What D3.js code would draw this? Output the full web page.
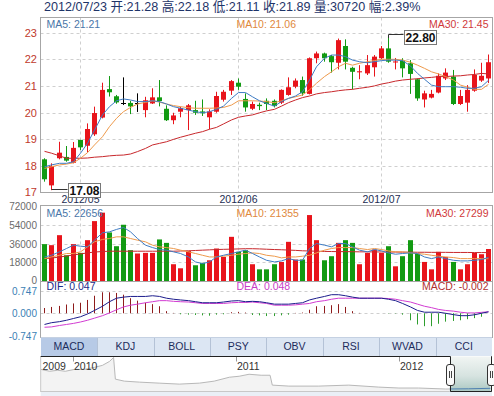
<!DOCTYPE html>
<html><head><meta charset="utf-8">
<script src="https://cdn.jsdelivr.net/npm/d3@7"></script>
<style>
body{margin:0;background:#fff;}
svg{display:block;font-family:"Liberation Sans",Arial,"Noto Sans CJK SC",sans-serif;}
</style>
</head><body>
<svg id="c" width="494" height="396"></svg>
<script>
// ---------------- DATA ----------------
const dates = ["2012-04-23","2012-04-24","2012-04-25","2012-04-26","2012-04-27",
"2012-05-02","2012-05-03","2012-05-04","2012-05-07","2012-05-08","2012-05-09","2012-05-10","2012-05-11","2012-05-14","2012-05-15","2012-05-16","2012-05-17","2012-05-18","2012-05-21","2012-05-22","2012-05-23","2012-05-24","2012-05-25","2012-05-28","2012-05-29","2012-05-30","2012-05-31",
"2012-06-01","2012-06-04","2012-06-05","2012-06-06","2012-06-07","2012-06-08","2012-06-11","2012-06-12","2012-06-13","2012-06-14","2012-06-15","2012-06-18","2012-06-19","2012-06-20","2012-06-21","2012-06-25","2012-06-26","2012-06-27","2012-06-28","2012-06-29",
"2012-07-02","2012-07-03","2012-07-04","2012-07-05","2012-07-06","2012-07-09","2012-07-10","2012-07-11","2012-07-12","2012-07-13","2012-07-16","2012-07-17","2012-07-18","2012-07-19","2012-07-20","2012-07-23"];

const opens = [18.24,17.26,18.28,18.33,18.11,18.97,18.75,19.18,19.81,20.88,
20.61,20.35,20.36,20.35,20.09,20.34,20.57,20.14,19.71,20.03,
20.09,20.09,20.04,19.82,20.03,20.48,20.82,21.12,20.51,20.14,
20.29,20.44,20.44,20.37,20.66,20.97,21.22,20.70,22.04,22.22,
22.12,21.87,22.50,21.68,21.51,21.47,21.70,22.04,22.41,21.88,
21.95,21.85,21.25,20.49,20.56,20.75,21.28,21.35,20.32,20.37,
20.82,21.20,21.28];
const highs = [18.28,18.09,18.90,18.74,18.89,18.97,19.59,20.22,21.12,21.37,
20.66,21.32,20.44,20.72,20.59,20.91,21.22,20.27,19.99,20.22,
20.32,20.44,20.49,20.12,20.78,20.85,21.22,21.28,20.72,20.41,
20.37,20.53,20.49,20.87,21.32,21.28,21.35,22.07,22.29,22.25,
22.16,22.78,22.75,21.72,21.78,22.16,22.16,22.50,22.80,22.05,
22.04,21.97,21.28,20.82,20.85,21.47,21.66,21.60,20.85,21.03,
21.62,21.87,22.18];
const lows = [17.40,17.08,18.24,18.15,18.09,18.59,18.50,19.12,19.78,20.60,
20.33,20.28,19.94,20.02,19.82,20.32,20.23,19.68,19.56,19.82,
19.34,19.91,19.87,19.37,19.99,20.41,20.66,20.85,20.03,20.09,
20.09,20.09,20.19,20.32,20.63,20.91,20.63,20.68,21.85,21.91,
21.50,21.62,21.62,20.87,21.25,21.41,21.35,22.00,21.87,21.62,
21.32,20.70,20.44,20.19,20.53,20.72,21.22,20.28,20.28,20.03,
20.78,21.15,21.11];
const closes = [17.49,17.99,18.49,18.19,18.67,18.69,19.38,19.98,20.85,20.76,
20.38,20.35,20.23,20.35,20.46,20.57,20.43,19.71,19.89,20.16,
20.27,19.99,19.97,20.04,20.62,20.78,21.18,20.97,20.19,20.32,
20.24,20.32,20.24,20.85,20.95,21.20,20.72,22.04,22.22,22.04,
21.89,22.72,21.91,21.53,21.55,21.78,22.10,22.41,21.91,21.92,
21.66,21.45,20.53,20.72,20.70,21.38,21.50,20.32,20.62,20.85,
21.41,21.38,21.89];

const ma5 = [17.96,18.03,18.09,18.09,18.15,18.47,18.84,19.34,19.91,20.22,
20.44,20.51,20.47,20.41,20.41,20.44,20.41,20.32,20.22,20.16,
20.09,20.03,19.99,20.03,20.12,20.24,20.53,20.75,20.75,20.59,
20.44,20.34,20.24,20.41,20.53,20.62,20.78,21.22,21.72,22.04,
22.16,22.16,22.10,21.97,21.91,21.87,21.91,21.95,21.97,21.97,
21.95,21.75,21.47,21.25,21.03,20.97,20.97,20.97,20.95,20.91,
20.91,20.97,21.21];
const ma10 = [17.90,17.96,18.03,18.06,18.11,18.28,18.49,18.78,19.09,19.47,
19.78,20.03,20.19,20.32,20.38,20.44,20.39,20.32,20.26,20.22,
20.18,20.16,20.16,20.16,20.17,20.19,20.28,20.44,20.44,20.44,
20.43,20.41,20.37,20.44,20.53,20.59,20.66,20.85,21.10,21.35,
21.53,21.72,21.85,21.78,21.85,21.91,21.95,22.00,22.00,22.00,
21.97,21.89,21.78,21.66,21.53,21.45,21.35,21.22,21.03,20.95,
20.87,20.87,21.06];
const ma30 = [18.54,18.47,18.37,18.28,18.28,18.28,18.29,18.32,18.34,18.37,
18.39,18.40,18.44,18.53,18.65,18.78,18.84,18.90,18.99,19.07,
19.15,19.22,19.28,19.37,19.44,19.57,19.72,19.82,19.87,19.91,
19.99,20.06,20.12,20.24,20.37,20.47,20.56,20.62,20.70,20.75,
20.78,20.82,20.85,20.87,20.91,20.95,21.00,21.07,21.12,21.18,
21.22,21.25,21.27,21.30,21.32,21.35,21.35,21.37,21.38,21.41,
21.43,21.47,21.45];

const volumes = [35400,34400,44000,24700,35400,27000,39200,57500,65600,46600,
33400,54000,29600,26400,27000,27000,39900,36600,16100,12200,
28900,15100,17400,19900,31200,23100,42400,28000,29600,16100,
11200,11200,16100,18300,37600,20600,20600,63300,39200,19900,
23800,36600,39200,36600,16100,27000,30200,27000,33400,14100,
23800,39200,26400,18300,11200,28000,23100,18300,11200,16100,
27000,25700,30720];
const volMa5 = [23100,24700,28000,31200,34400,33400,32800,39200,46300,47200,
49500,51400,47200,40800,34400,32100,30200,29600,28000,26400,
23100,18300,16700,18300,23100,24700,26400,28000,29600,26400,
23100,19900,18300,19300,21500,19900,19900,31200,36000,34400,
32800,36000,36000,32800,29600,28000,30200,28900,27000,25700,
26400,27000,26400,23100,21500,23100,21500,19900,19300,19300,
19900,20600,22656];
const volMa10 = [21500,23100,24700,26400,26400,28000,32800,37600,39900,40800,
42400,42400,40800,39200,37600,34400,32800,32100,31200,29600,
28000,26400,24700,23100,23100,23800,24700,25700,26400,27000,
26400,24700,23800,22200,23100,23100,23800,24700,27000,29600,
31200,32100,32100,32100,31200,30200,31200,30200,28900,28000,
28000,27000,26400,25700,24700,23800,23100,22500,21500,21500,
21500,21500,21355];
const volMa30 = [21500,22000,23000,24000,25000,26000,27000,27800,28300,28600,
28600,28600,28600,28600,28600,28600,28600,28600,28600,28800,
29000,29300,29600,29900,30200,30400,30600,30800,31000,31000,
30800,30500,30200,30000,29700,29400,29000,28800,28600,28400,
28300,28200,28200,28100,28000,28000,27900,27900,27800,27800,
27700,27700,27600,27600,27500,27500,27500,27400,27400,27400,
27300,27300,27299];

const dif = [-0.368,-0.310,-0.276,-0.230,-0.172,-0.115,-0.023,0.092,0.230,0.379,
0.494,0.529,0.552,0.552,0.552,0.575,0.552,0.494,0.460,0.437,
0.414,0.379,0.345,0.345,0.345,0.368,0.402,0.414,0.379,0.391,
0.379,0.345,0.299,0.299,0.299,0.322,0.345,0.437,0.494,0.552,
0.609,0.609,0.575,0.529,0.494,0.494,0.494,0.494,0.460,0.414,
0.322,0.207,0.092,0.034,0.034,0.034,0.000,-0.046,-0.080,-0.080,
-0.050,0.000,0.047];
const dea = [-0.460,-0.448,-0.402,-0.368,-0.333,-0.287,-0.230,-0.161,-0.080,0.011,
0.115,0.207,0.264,0.299,0.345,0.379,0.414,0.414,0.391,0.379,
0.368,0.345,0.322,0.322,0.322,0.322,0.345,0.356,0.356,0.368,
0.345,0.322,0.264,0.264,0.264,0.276,0.299,0.322,0.379,0.414,
0.460,0.494,0.494,0.494,0.494,0.494,0.494,0.494,0.483,0.460,
0.414,0.368,0.299,0.230,0.184,0.126,0.092,0.069,0.034,0.011,
0.010,0.030,0.048];
const macdHist = [0.172,0.207,0.241,0.287,0.322,0.345,0.437,0.575,0.689,0.689,
0.666,0.609,0.494,0.414,0.345,0.299,0.230,0.069,0.011,-0.034,
-0.046,-0.057,-0.069,-0.080,-0.046,-0.034,0.034,0.046,0.023,-0.057,
-0.069,-0.092,-0.092,-0.069,-0.046,0.011,0.023,0.115,0.230,0.241,
0.264,0.299,0.207,0.069,0.011,0.000,0.000,0.000,-0.011,-0.011,
-0.046,-0.230,-0.368,-0.425,-0.425,-0.345,-0.276,-0.253,-0.230,-0.195,
-0.161,-0.115,-0.002];

const priceTicks = [17,18,19,20,21,22,23];
const volTicks = [0,18000,36000,54000,72000];
const macdTicks = [-0.747,0,0.747];
const tabs = ["MACD","KDJ","BOLL","PSY","OBV","RSI","WVAD","CCI"];

const navDates = ["2009-10-21","2009-11-10","2009-11-28","2009-12-15","2010-01-05","2010-01-27","2010-02-18","2010-03-08","2010-03-24","2010-04-02","2010-04-06","2010-04-26","2010-05-30","2010-07-13","2010-08-27","2010-10-11","2010-11-13","2010-12-17","2011-01-08","2011-01-30","2011-02-26","2011-03-18","2011-03-23","2011-04-29","2011-07-05","2011-09-10","2011-11-16","2011-12-31","2012-02-13","2012-04-14","2012-06-04","2012-07-23"];
const navValues = [46.9,44.2,45.6,44.2,46.9,46.9,49.7,52.5,58.1,63.6,33.1,30.3,28.9,27.5,26.1,27.5,30.3,35.8,37.2,40.0,38.6,38.6,24.7,23.3,23.3,24.7,21.9,20.6,20.6,19.2,19.5,20.2];
const navYearLabels = ["2009","2010","2011","2012"];
const navYearDates = ["2009-10-21","2010-01-01","2011-01-01","2012-01-01"];

// ---------------- DRAW ----------------
const svg = d3.select("#c");
const L = 40.5, R = 492;
const RED = "#e8141b", GREEN = "#129a12";
const C_MA5 = "#3f7cc4", C_MA10 = "#ee9a4c", C_MA30 = "#c8282c";
const n = dates.length;

const x = d3.scaleBand().domain(dates).range([40.7, R]).padding(0);
const cx = d => Math.round(x(d) + x.bandwidth() / 2);

const yP = d3.scaleLinear().domain([17, 23]).range([192.3, 32.7]);
const yV = d3.scaleLinear().domain([0, 72000]).range([281, 206]);
const yM = d3.scaleLinear().domain([-0.747, 0.747]).range([336, 290.5]);

const MAIN = {t: 17.5, b: 192.5}, VOL = {t: 205.5, b: 281}, MAC = {t: 281, b: 337};

function frame(p) {
  svg.append("rect").attr("x", L).attr("y", p.t).attr("width", R - L).attr("height", p.b - p.t)
    .attr("fill", "none").attr("stroke", "#a6a6a6").attr("shape-rendering", "crispEdges");
}
function hgrid(ticks, y) {
  svg.append("g").selectAll("line").data(ticks).join("line")
    .attr("x1", L).attr("x2", R).attr("y1", d => Math.round(y(d)) + 0.5).attr("y2", d => Math.round(y(d)) + 0.5)
    .attr("stroke", "#cfcfcf").attr("stroke-dasharray", "3,3");
}
const monthIdx = dates.map((d, i) => i).filter(i => i > 0 && dates[i].slice(5, 7) !== dates[i - 1].slice(5, 7));
function vgrid(p) {
  svg.append("g").selectAll("line").data(monthIdx).join("line")
    .attr("x1", i => cx(dates[i]) + 0.5).attr("x2", i => cx(dates[i]) + 0.5)
    .attr("y1", p.t).attr("y2", p.b).attr("stroke", "#cfcfcf").attr("stroke-dasharray", "3,3");
}

// grids
hgrid(priceTicks.slice(1), yP); vgrid(MAIN);
hgrid(volTicks.slice(1, 4), yV); vgrid(VOL);
hgrid([0.747, 0], yM);

// axes labels
svg.append("g").selectAll("text").data(priceTicks).join("text")
  .attr("x", 37).attr("y", d => yP(d) + 4).attr("text-anchor", "end")
  .attr("font-size", 11).attr("fill", "#c0392b").text(d => d);
svg.append("g").selectAll("text").data(volTicks).join("text")
  .attr("x", 37).attr("y", d => yV(d) + (d === 0 ? 3.2 : 4)).attr("text-anchor", "end")
  .attr("font-size", 10).attr("fill", "#6b6b6b").text(d => d);
svg.append("g").selectAll("text").data(macdTicks).join("text")
  .attr("x", 37).attr("y", d => yM(d) + (d > 0 ? 4.6 : 4)).attr("text-anchor", "end")
  .attr("font-size", 10).attr("fill", "#3a7fb5").text(d => d3.format(".3f")(d).replace("−", "-"));

// month labels
svg.append("g").selectAll("text").data(monthIdx).join("text")
  .attr("x", i => cx(dates[i]) + 0.5).attr("y", 203).attr("text-anchor", "middle")
  .attr("font-size", 10.5).attr("fill", "#1c2d52").text(i => dates[i].slice(0, 7).replace("-", "/"));

// candles
const cg = svg.append("g");
dates.forEach((d, i) => {
  const o = opens[i], c = closes[i];
  const col = c > o ? RED : (c < o ? GREEN : "#000");
  const xc = cx(d);
  cg.append("line").attr("x1", xc + 0.5).attr("x2", xc + 0.5)
    .attr("y1", yP(highs[i])).attr("y2", yP(lows[i])).attr("stroke", col);
  if (c === o) {
    cg.append("line").attr("x1", xc - 2).attr("x2", xc + 3)
      .attr("y1", Math.round(yP(c)) + 0.5).attr("y2", Math.round(yP(c)) + 0.5).attr("stroke", col);
  } else {
    const top = yP(Math.max(o, c)), bot = yP(Math.min(o, c));
    cg.append("rect").attr("x", xc - 2).attr("y", top).attr("width", 5)
      .attr("height", Math.max(1, bot - top)).attr("fill", col);
  }
});

const lineOf = (arr, y) => d3.line().x((v, i) => cx(dates[i]) + 0.5).y(v => y(v))(arr);
function drawLine(arr, y, col) {
  svg.append("path").attr("d", lineOf(arr, y)).attr("fill", "none").attr("stroke", col).attr("stroke-width", 1);
}
drawLine(ma30, yP, C_MA30); drawLine(ma10, yP, C_MA10); drawLine(ma5, yP, C_MA5);

// volume bars
const vg = svg.append("g");
dates.forEach((d, i) => {
  let up = closes[i] > opens[i];
  if (closes[i] === opens[i]) up = i > 0 ? closes[i] >= closes[i - 1] : true;
  vg.append("rect").attr("x", cx(d) - 2).attr("y", yV(volumes[i])).attr("width", 5)
    .attr("height", yV(0) - yV(volumes[i])).attr("fill", up ? RED : GREEN);
});
drawLine(volMa30, yV, C_MA30); drawLine(volMa10, yV, C_MA10); drawLine(volMa5, yV, C_MA5);

// MACD
const mg = svg.append("g");
dates.forEach((d, i) => {
  const v = macdHist[i];
  if (Math.abs(v) < 0.005) return;
  mg.append("line").attr("x1", cx(d) + 0.5).attr("x2", cx(d) + 0.5)
    .attr("y1", yM(0)).attr("y2", yM(v)).attr("stroke", v > 0 ? "#8e1b1b" : "#2e9e2e");
});
drawLine(dea, yM, "#d23cd2"); drawLine(dif, yM, "#1c1c8c");

// frames
frame(MAIN); frame(VOL); frame(MAC);

// legends
function legend(y, a, b, c) {
  svg.append("text").attr("x", 46.5).attr("y", y).attr("font-size", 10.5).attr("fill", a[1]).text(a[0]);
  svg.append("text").attr("x", 236.5).attr("y", y).attr("font-size", 10.5).attr("fill", b[1]).text(b[0]);
  svg.append("text").attr("x", 488.5).attr("y", y).attr("text-anchor", "end").attr("font-size", 10.5).attr("fill", c[1]).text(c[0]);
}
const last = n - 1;
legend(27.5, ["MA5: " + ma5[last].toFixed(2), "#4a76a8"], ["MA10: " + ma10[last].toFixed(2), "#e0883c"], ["MA30: " + ma30[last].toFixed(2), "#d0393b"]);
legend(217, ["MA5: " + volMa5[last], "#4a76a8"], ["MA10: " + volMa10[last], "#e0883c"], ["MA30: " + volMa30[last], "#d0393b"]);
legend(290, ["DIF: " + dif[last].toFixed(3), "#1c2a8a"], ["DEA: " + dea[last].toFixed(3), "#c83cc8"], ["MACD: " + macdHist[last].toFixed(3), "#b03030"]);

// min / max markers
function marker(i, val, below) {
  const xc = cx(dates[i]) + 0.5, yy = yP(val);
  const bx = xc + (below ? 16 : 15);
  let by, lineY;
  if (below) { lineY = Math.round(yy) - 0.5; by = lineY - 7; }
  else { lineY = Math.round(yy) - 3.5; by = lineY - 5; }
  const path = below ? `M${xc},${lineY}H${bx}` : `M${xc},${yy}V${lineY}H${bx}`;
  svg.append("path").attr("d", path).attr("fill", "none").attr("stroke", "#333");
  svg.append("rect").attr("x", Math.round(bx) + 0.5).attr("y", Math.round(by) + 0.5).attr("width", 32).attr("height", 14)
    .attr("fill", "#fff").attr("stroke", "#777");
  svg.append("text").attr("x", Math.round(bx) + 16.5).attr("y", Math.round(by) + 12).attr("text-anchor", "middle")
    .attr("font-size", 12).attr("font-weight", "bold").attr("fill", "#111").text(val.toFixed(2));
}
const iMin = d3.minIndex(lows), iMax = d3.maxIndex(highs);
marker(iMin, lows[iMin], true);
marker(iMax, highs[iMax], false);

// title
const pct = ((closes[last] / closes[last - 1] - 1) * 100).toFixed(2);
svg.append("text").attr("x", 44).attr("y", 10.5).attr("font-size", 12.6).attr("fill", "#1e3468")
  .text(`${dates[last].replace(/-/g, "/")} 开:${opens[last].toFixed(2)} 高:${highs[last].toFixed(2)} 低:${lows[last].toFixed(2)} 收:${closes[last].toFixed(2)} 量:${volumes[last]} 幅:${pct}%`);

// tabs
const TT = 337, TB = 356;
const tx = d3.scaleBand().domain(tabs).range([40.7, R]);
const tg = svg.append("g");
tg.selectAll("rect").data(tabs).join("rect")
  .attr("x", d => tx(d)).attr("y", TT).attr("width", tx.bandwidth()).attr("height", TB - TT)
  .attr("fill", (d, i) => i === 0 ? "#b7cae6" : "#dce6f3").attr("shape-rendering", "crispEdges");
tg.selectAll("line").data(tabs.slice(1)).join("line")
  .attr("x1", d => Math.round(tx(d)) + 0.5).attr("x2", d => Math.round(tx(d)) + 0.5)
  .attr("y1", TT).attr("y2", TB).attr("stroke", "#b4c2d6");
tg.append("line").attr("x1", 40.7).attr("x2", R).attr("y1", TT + 0.5).attr("y2", TT + 0.5).attr("stroke", "#c5d1e2");
tg.selectAll("text").data(tabs).join("text")
  .attr("x", d => tx(d) + tx.bandwidth() / 2).attr("y", 349.5).attr("text-anchor", "middle")
  .attr("font-size", 10.5).attr("fill", "#1c2c5c").text(d => d);

// navigator
const NT = 356.5, NB = 392;
const parse = d3.timeParse("%Y-%m-%d");
const navX = d3.scaleTime().domain([parse(navDates[0]), parse(navDates[navDates.length - 1])]).range([40.7, 490.5]);
const navY = d3.scaleLinear().domain([15, 65]).range([NB, NT]);
svg.append("rect").attr("x", 40.7).attr("y", NB).attr("width", R - 40.7).attr("height", 396 - NB).attr("fill", "#eaeff6");
svg.append("rect").attr("x", 40.7).attr("y", NT).attr("width", R - 40.7).attr("height", NB - NT).attr("fill", "#fff");
const navPts = navDates.map((d, i) => [navX(parse(d)), navY(navValues[i])]);
svg.append("path").attr("d", d3.area().x(p => p[0]).y0(NB).y1(p => p[1])(navPts)).attr("fill", "#f3f3f3");
svg.append("path").attr("d", d3.line()(navPts)).attr("fill", "none").attr("stroke", "#b8b8b8");
// year ticks / labels
navYearDates.forEach((d, i) => {
  const xx = Math.round(navX(parse(d))) + 0.5;
  if (i > 0) svg.append("line").attr("x1", xx).attr("x2", xx).attr("y1", NT).attr("y2", NT + 5).attr("stroke", "#999");
  svg.append("text").attr("x", i === 0 ? 42.5 : xx + 0.5).attr("y", 369.5).attr("font-size", 10.5).attr("fill", "#333").text(navYearLabels[i]);
});
// window
const wx0 = navX(parse(dates[0])), wx1 = navX(parse(dates[last]));
const grad = svg.append("defs").append("linearGradient").attr("id", "wg").attr("x1", 0).attr("y1", 0).attr("x2", 0).attr("y2", 1);
grad.append("stop").attr("offset", "0").attr("stop-color", "#f1f5f3");
grad.append("stop").attr("offset", "0.55").attr("stop-color", "#d6e3e0");
grad.append("stop").attr("offset", "1").attr("stop-color", "#a9c7c1");
svg.append("rect").attr("x", wx0).attr("y", NT).attr("width", wx1 - wx0).attr("height", NB - NT).attr("fill", "url(#wg)");
svg.append("defs").append("clipPath").attr("id", "wc").append("rect").attr("x", wx0).attr("y", NT).attr("width", wx1 - wx0).attr("height", NB - NT);
svg.append("path").attr("d", d3.line()(navPts)).attr("fill", "none").attr("stroke", "#4d7fb0").attr("clip-path", "url(#wc)");
// outline
svg.append("path").attr("d", `M40.7,${NB - 0.5}H${wx0}M${wx1},${NB - 0.5}H${R}`).attr("stroke", "#c8c8c8").attr("fill", "none");
svg.append("path").attr("d", `M40.7,${NT}V${NB}M${R - 0.5},${NT}V${NB}`).attr("stroke", "#c8c8c8").attr("fill", "none");
svg.append("path").attr("d", `M40.7,${NT}H${Math.round(wx0) + 0.5}V${NB - 0.5}H${Math.round(wx1) + 0.5}V${NT}H${R}`)
  .attr("stroke", "#222").attr("fill", "none");
// handles
[wx0, wx1].forEach(hx => {
  const h = Math.round(hx);
  svg.append("rect").attr("x", h - 3.5).attr("y", 364.5).attr("width", 8).attr("height", 21).attr("rx", 2.5)
    .attr("fill", "#fafafa").attr("stroke", "#333");
  svg.append("path").attr("d", `M${h - 0.5},371V378M${h + 1.5},371V378`).attr("stroke", "#444");
});
</script>
</body></html>
